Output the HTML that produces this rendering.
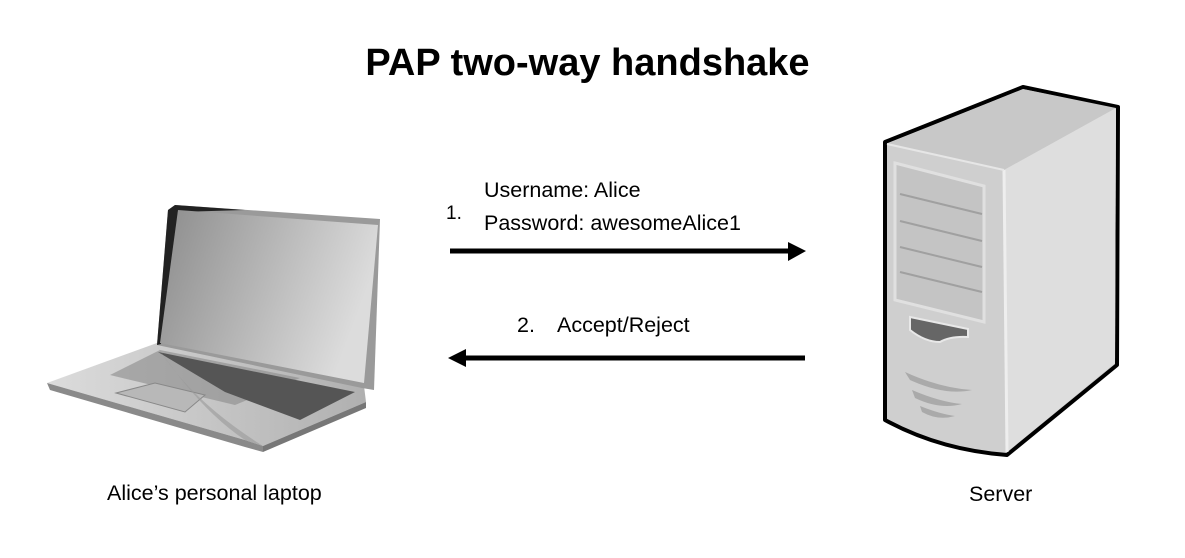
<!DOCTYPE html>
<html><head><style>
html,body{margin:0;padding:0;background:#fff;}
body{width:1185px;height:558px;position:relative;overflow:hidden;font-family:"Liberation Sans",sans-serif;}
.t{position:absolute;white-space:nowrap;color:#000;}
</style></head><body>
<div class="t" style="left:0;width:1175px;text-align:center;top:42px;font-size:38px;font-weight:bold;">PAP two-way handshake</div>
<div class="t" style="left:446px;top:203px;font-size:19px;">1.</div>
<div class="t" style="left:484px;top:178px;font-size:21.5px;">Username: Alice</div>
<div class="t" style="left:484px;top:211px;font-size:21.5px;">Password: awesomeAlice1</div>
<div class="t" style="left:517px;top:313px;font-size:21.5px;">2.</div>
<div class="t" style="left:557px;top:313px;font-size:21.5px;">Accept/Reject</div>
<div class="t" style="left:107px;top:481px;font-size:21.5px;">Alice’s personal laptop</div>
<div class="t" style="left:969px;top:482px;font-size:21.5px;">Server</div>
<svg width="1185" height="558" style="position:absolute;left:0;top:0">
<defs>
<linearGradient id="scr" x1="0" y1="0" x2="1" y2="0.3"><stop offset="0" stop-color="#8c8c8c"/><stop offset="1" stop-color="#dcdcdc"/></linearGradient>
<linearGradient id="base" x1="0" y1="0" x2="1" y2="0"><stop offset="0" stop-color="#dcdcdc"/><stop offset="1" stop-color="#b0b0b0"/></linearGradient>
</defs>
<line x1="450" y1="251" x2="792" y2="251" stroke="#000" stroke-width="5"/>
<polygon points="788,242 806,251 788,261" fill="#000"/>
<line x1="805" y1="358" x2="462" y2="358" stroke="#000" stroke-width="5"/>
<polygon points="466,349 448,358 466,367" fill="#000"/>
<!-- laptop -->
<polygon points="47,383 157,343 364,386 366,402 263,446 245,440" fill="url(#base)"/>
<polygon points="47,383 245,440 263,446 263,452 245,447 50,390" fill="#8a8a8a"/>
<polygon points="263,446 366,402 366,408 263,452" fill="#777"/>
<polygon points="160,350 300,378 235,405 110,375" fill="#8a8a8a" opacity="0.6"/>
<polygon points="158,352 355,392 300,420 225,392" fill="#555"/>
<polygon points="116,393 155,383 205,395 185,412" fill="#b8b8b8" stroke="#888"/>
<polygon points="175,205 380,219 374,390 362,388 157,345 168,210" fill="#9a9a9a"/>
<polygon points="175,205 245,210 178,212 161,344 157,345 168,210" fill="#222"/>
<polygon points="178,210 378,225 364,383 160,343" fill="url(#scr)"/>
<path d="M157,346 Q190,400 263,446 L245,440 Q200,410 157,346Z" fill="#9a9a9a" opacity="0.6"/>
<!-- server -->
<path d="M885,142 L1023,87 L1118,107 L1117,365 L1007,455 Q940,450 885,420 Z" fill="#cfcfcf" stroke="#000" stroke-width="4" stroke-linejoin="round"/>
<polygon points="887,144 1023,89 1116,108 1004,170" fill="#c8c8c8"/>
<polygon points="1004,170 1116,108 1115,363 1007,452" fill="#dedede"/>
<line x1="1004" y1="170" x2="1007" y2="452" stroke="#eee" stroke-width="3"/>
<line x1="887" y1="144" x2="1004" y2="170" stroke="#e6e6e6" stroke-width="2"/>
<polygon points="895,163 984,186 984,322 895,300" fill="#c4c4c4" stroke="#e0e0e0" stroke-width="3"/>
<g stroke="#a0a0a0" stroke-width="2">
<line x1="900" y1="194" x2="982" y2="214"/>
<line x1="900" y1="221" x2="982" y2="241"/>
<line x1="900" y1="247" x2="982" y2="267"/>
<line x1="900" y1="272" x2="982" y2="292"/>
</g>
<path d="M910,317 L968,329 L968,337 Q950,336 940,342 Q925,342 910,330 Z" fill="#666" stroke="#e8e8e8" stroke-width="2"/>
<g fill="#aaa">
<path d="M905,372 Q940,388 972,390 Q945,396 910,380Z"/>
<path d="M912,390 Q940,402 962,404 Q940,410 915,398Z"/>
<path d="M920,406 Q940,414 955,416 Q938,421 922,412Z"/>
</g>
</svg>
</body></html>
